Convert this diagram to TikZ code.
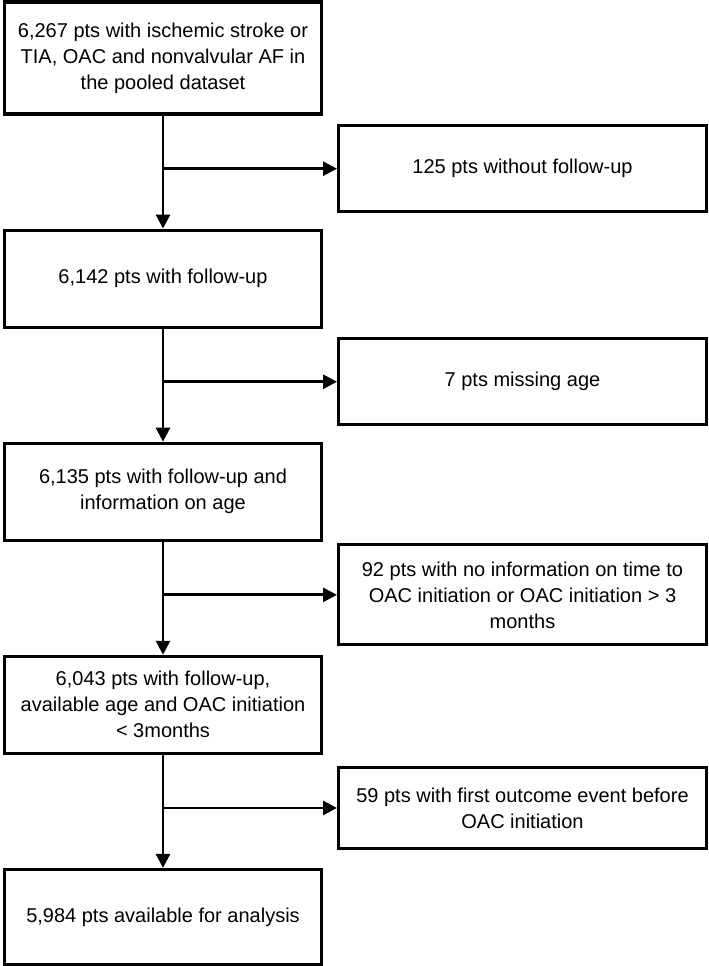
\documentclass[tikz,border=0pt]{standalone}
\usepackage{fontspec}
\setmainfont{Liberation Sans}
\usetikzlibrary{positioning, calc, arrows.meta}
\tikzset{
every node/.style = {font = \fontsize{20}{26}\selectfont},
stage/.style = {rectangle, draw, line width = 3.1pt, minimum width = 317pt,
   minimum height = 97pt, inner sep = 4pt, align = center},
excluded/.style = {rectangle, draw, line width = 3pt, minimum width = 368pt,
   minimum height = 86pt, inner sep = 4pt, align = center},
flow/.style = {-{Triangle[length = 14pt, width = 14pt]}, line width = 2.8pt}
}

\begin{document}
\begin{tikzpicture}

\useasboundingbox (0pt,0pt) rectangle (709pt,-966pt);

%% The main stages
\node [stage, minimum height = 112pt] (b1) at (163pt,-58pt)
   {6,267 pts with ischemic stroke or\\TIA, OAC and nonvalvular AF in\\the pooled dataset};
\node [stage] (b2) [below = 113pt of b1] {6,142 pts with follow-up};
\node [stage] (b3) [below = 113pt of b2] {6,135 pts with follow-up and\\information on age};
\node [stage] (b4) [below = 113pt of b3]
   {6,043 pts with follow-up,\\available age and OAC initiation\\< 3months};
\node [stage, minimum height = 95pt] (b5) [below = 113pt of b4] {5,984 pts available for analysis};

\path [flow] (b1) edge (b2);
\path [flow] (b2) edge (b3);
\path [flow] (b3) edge (b4);
\path [flow] (b4) edge (b5);

%% Branch points
\coordinate (m1) at ($(b1.south)!0.47!(b2.north)$);
\coordinate (m2) at ($(b2.south)!0.47!(b3.north)$);
\coordinate (m3) at ($(b3.south)!0.47!(b4.north)$);
\coordinate (m4) at ($(b4.south)!0.47!(b5.north)$);

%% Exclusions
\node [excluded] (r1) [right = 174pt of m1] {125 pts without follow-up};
\node [excluded] (r2) [right = 174pt of m2] {7 pts missing age};
\node [excluded, minimum height = 100pt] (r3) [right = 174pt of m3]
   {92 pts with no information on time to\\OAC initiation or OAC initiation > 3\\months};
\node [excluded, minimum height = 81pt] (r4) [right = 174pt of m4]
   {59 pts with first outcome event before\\OAC initiation};

\path [flow] (m1) edge (r1);
\path [flow] (m2) edge (r2);
\path [flow] (m3) edge (r3);
\path [flow] (m4) edge (r4);

\end{tikzpicture}
\end{document}
